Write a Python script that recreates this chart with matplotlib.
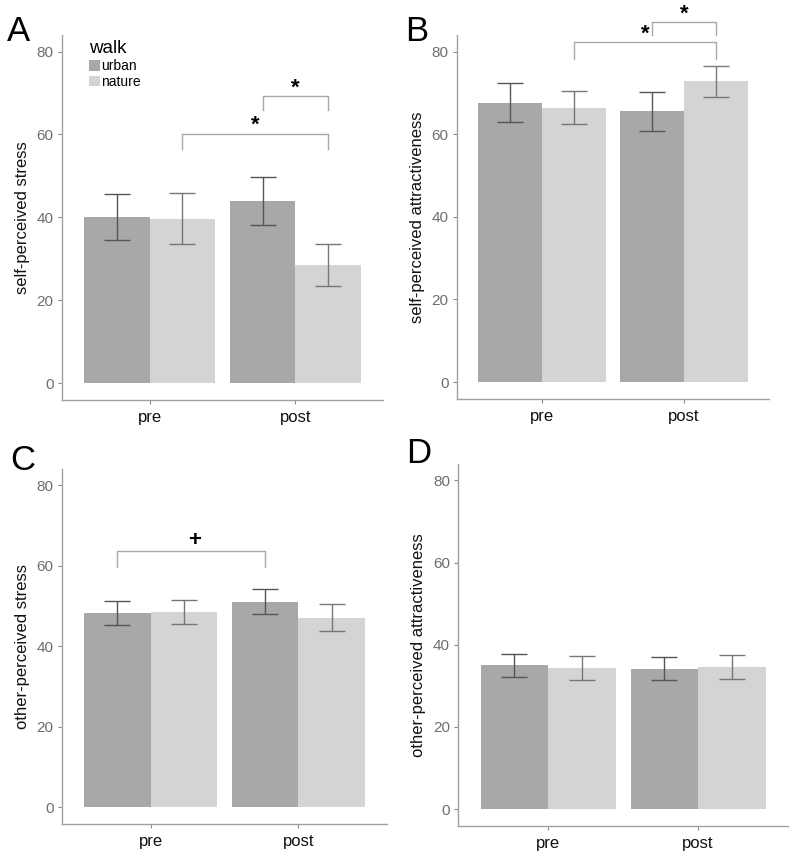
import matplotlib
matplotlib.use("Agg")
import matplotlib.pyplot as plt
from matplotlib.patches import Patch
import numpy as np

plt.rcParams['font.family'] = ['Liberation Sans', 'DejaVu Sans']

times = ["pre", "post"]
walks = ["urban", "nature"]
colors = ["#a8a8a8", "#d4d4d4"]
err_colors = ["#555555", "#777777"]

# means and error bar ends, [pre, post] for each walk
stress_self = {"urban": [40.0, 44.0], "nature": [39.5, 28.5]}
stress_self_lo = {"urban": [34.5, 38.2], "nature": [33.5, 23.4]}
stress_self_hi = {"urban": [45.7, 49.7], "nature": [45.9, 33.6]}

attr_self = {"urban": [67.6, 65.5], "nature": [66.4, 72.9]}
attr_self_lo = {"urban": [62.9, 60.7], "nature": [62.4, 68.9]}
attr_self_hi = {"urban": [72.3, 70.1], "nature": [70.5, 76.6]}

stress_other = {"urban": [48.3, 51.1], "nature": [48.5, 47.1]}
stress_other_lo = {"urban": [45.2, 48.0], "nature": [45.5, 43.8]}
stress_other_hi = {"urban": [51.3, 54.1], "nature": [51.5, 50.5]}

attr_other = {"urban": [35.0, 34.1], "nature": [34.3, 34.6]}
attr_other_lo = {"urban": [32.1, 31.4], "nature": [31.4, 31.6]}
attr_other_hi = {"urban": [37.8, 37.0], "nature": [37.3, 37.6]}

ylabels = ["self-perceived stress", "self-perceived attractiveness",
           "other-perceived stress", "other-perceived attractiveness"]
panel_letters = ["A", "B", "C", "D"]

# brackets: (time, walk) start, (time, walk) end, y, leg-bottom y, symbol
brackets = {
    0: [((0, 1), (1, 1), 60.2, 56.4, "*"), ((1, 0), (1, 1), 69.2, 65.8, "*")],
    1: [((0, 1), (1, 1), 82.2, 78.1, "*"), ((1, 0), (1, 1), 87.2, 84.0, "*")],
    2: [((0, 0), (1, 0), 63.7, 59.6, "+")],
    3: [],
}

fig = plt.figure(figsize=(7.97, 8.6), dpi=100)
positions = [
    [0.0778, 0.5349, 0.4028, 0.4244],
    [0.5734, 0.5360, 0.3915, 0.4233],
    [0.0778, 0.0419, 0.4078, 0.4128],
    [0.5750, 0.0395, 0.4137, 0.4210],
]
letter_pos = [(-0.17, 1.01), (-0.165, 1.01), (-0.16, 1.025), (-0.158, 1.03)]
data = [
    (stress_self, stress_self_lo, stress_self_hi),
    (attr_self, attr_self_lo, attr_self_hi),
    (stress_other, stress_other_lo, stress_other_hi),
    (attr_other, attr_other_lo, attr_other_hi),
]

bw = 0.45
x = np.array([1.0, 2.0])
for i, (means, lo, hi) in enumerate(data):
    ax = fig.add_axes(positions[i])
    for j, w in enumerate(walks):
        xs = x + (j - 0.5) * bw
        m = np.array(means[w])
        ax.bar(xs, m, width=bw, color=colors[j], edgecolor="none", zorder=1)
        yerr = [m - np.array(lo[w]), np.array(hi[w]) - m]
        ax.errorbar(xs, m, yerr=yerr, fmt="none", ecolor=err_colors[j],
                    elinewidth=1.0, capsize=9.5, capthick=1.0, zorder=2)
    for (a, b, yb, yl, sym) in brackets[i]:
        x0 = x[a[0]] + (a[1] - 0.5) * bw
        x1 = x[b[0]] + (b[1] - 0.5) * bw
        ax.plot([x0, x0, x1, x1], [yl, yb, yb, yl], color="#a8a8a8",
                lw=1.0, clip_on=False, zorder=3)
        if sym == "*":
            ax.text((x0 + x1) / 2, yb - 0.6, sym, ha="center", va="bottom",
                    fontsize=16, fontweight="bold", clip_on=False)
        else:
            ax.text((x0 + x1) / 2 + 0.02, yb + 2.6, sym, ha="center",
                    va="center", fontsize=16, fontweight="bold",
                    clip_on=False)
    ax.set_xlim(0.4, 2.6)
    ax.set_ylim(-4.1, 84)
    ax.set_xticks(x)
    ax.set_xticklabels(times, fontsize=12, color="#111111")
    ax.set_yticks([0, 20, 40, 60, 80])
    ax.tick_params(axis="y", labelsize=11, labelcolor="#6e6e6e",
                   color="#8a8a8a", length=3, width=0.8, pad=3)
    ax.tick_params(axis="x", color="#8a8a8a", length=3, width=0.8, pad=4)
    for s in ["top", "right"]:
        ax.spines[s].set_visible(False)
    for s in ["left", "bottom"]:
        ax.spines[s].set_color("#a0a0a0")
        ax.spines[s].set_linewidth(1.0)
    ax.set_ylabel(ylabels[i], fontsize=12, color="#111111", labelpad=5)
    ax.text(letter_pos[i][0], letter_pos[i][1], panel_letters[i],
            transform=ax.transAxes, fontsize=25, ha="left", va="center")
    if i == 0:
        handles = [Patch(facecolor=c, edgecolor="none", label=w)
                   for c, w in zip(colors, walks)]
        leg = ax.legend(handles=handles, title="walk", loc="upper left",
                        bbox_to_anchor=(0.085, 0.985), frameon=False,
                        fontsize=10, title_fontsize=13.5,
                        handlelength=0.75, handleheight=0.8,
                        handletextpad=0.1, labelspacing=0.12,
                        borderpad=0, borderaxespad=0, alignment="left")

fig.savefig("out.png", dpi=100)
